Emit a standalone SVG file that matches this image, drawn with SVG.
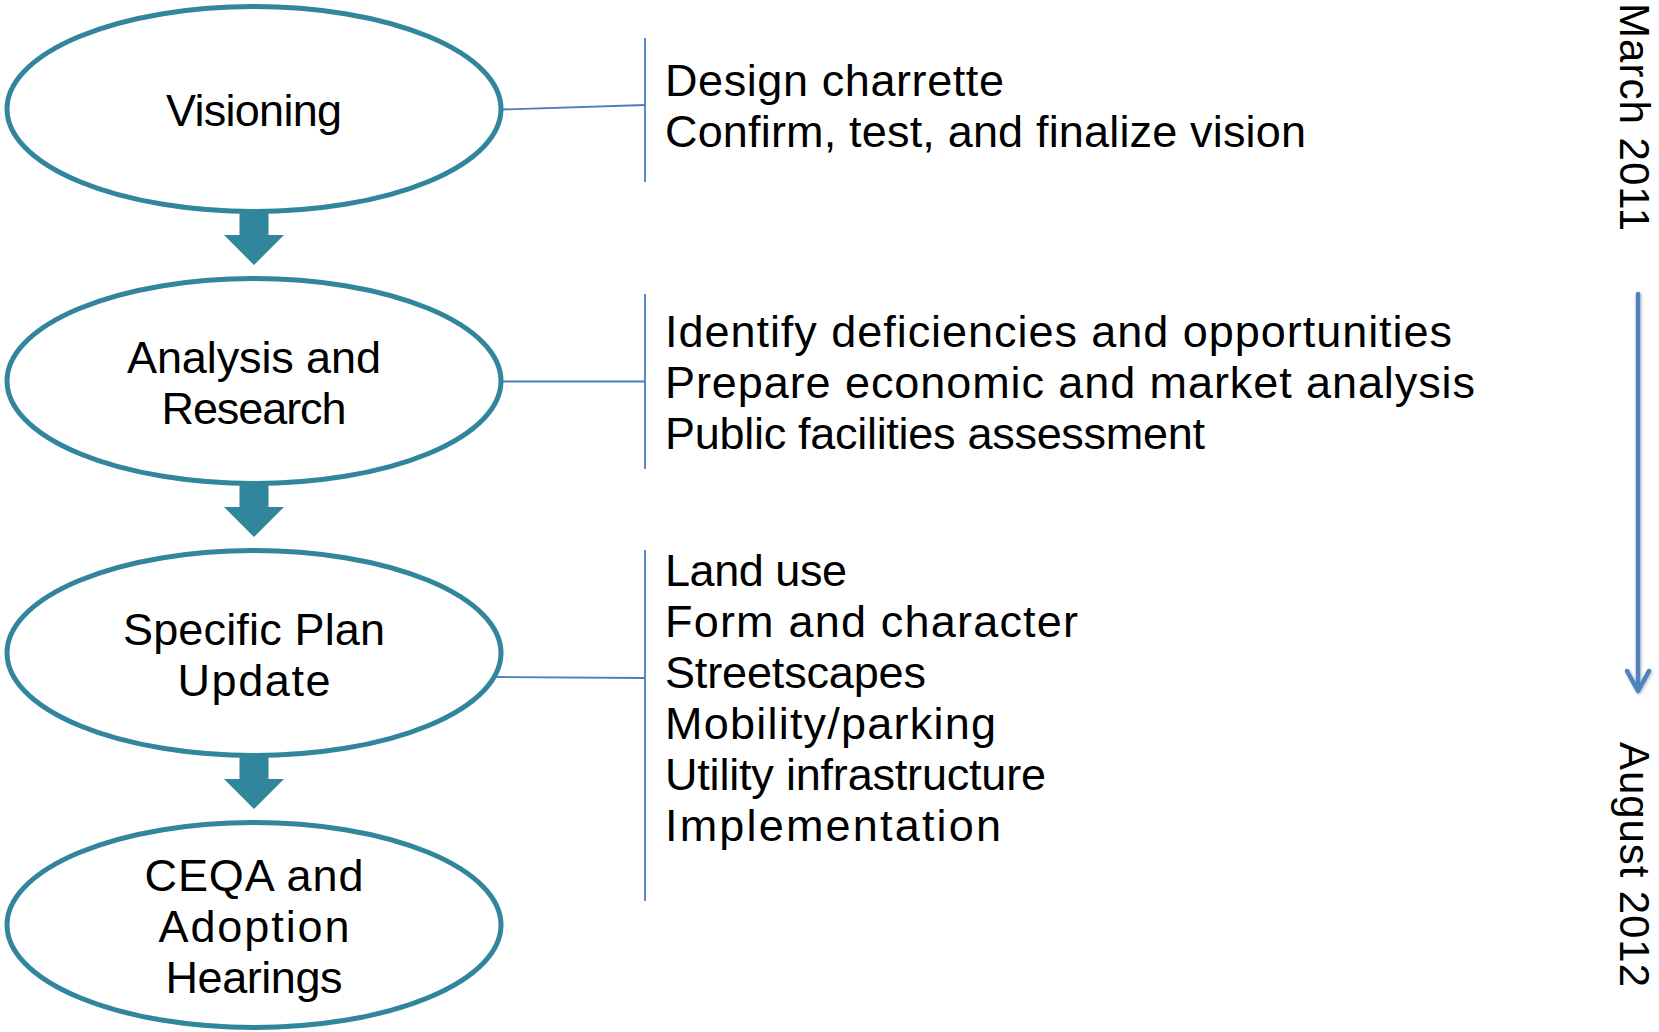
<svg xmlns="http://www.w3.org/2000/svg" width="1659" height="1032" viewBox="0 0 1659 1032">
  <style>
    .stage { fill: #ffffff; stroke: #31859c; stroke-width: 5; }
    .flow { fill: #31859c; }
    .lbl { font-family: "Liberation Sans", Arial, sans-serif; font-size: 45px; fill: #000000; }
    .side { font-size: 42px; }
    .mid { text-anchor: middle; }
    .tie { stroke: #4a7ebb; stroke-width: 1.8; fill: none; }
    .time { stroke: #4f81bd; stroke-width: 4.5; fill: none; stroke-linecap: round; stroke-linejoin: round; }
  </style>
  <defs>
    <filter id="soft" x="-50%" y="-5%" width="200%" height="110%">
      <feDropShadow dx="1" dy="1" stdDeviation="1.5" flood-color="#000000" flood-opacity="0.3"/>
    </filter>
  </defs>
  <rect width="1659" height="1032" fill="#ffffff"/>

  <!-- connectors: block arrows between stages, ties to task lists, timeline -->
  <g id="connectors">
    <path class="flow" d="M239.5,210 H268.5 V235 H284 L254,265 L224,235 H239.5 Z"/>
    <path class="flow" d="M239.5,482 H268.5 V507 H284 L254,537 L224,507 H239.5 Z"/>
    <path class="flow" d="M239.5,754 H268.5 V779 H284 L254,809 L224,779 H239.5 Z"/>

    <line class="tie" x1="502" y1="109.5" x2="645" y2="105"/>
    <line class="tie" x1="645" y1="38" x2="645" y2="182"/>
    <line class="tie" x1="502" y1="381.5" x2="645" y2="381.5"/>
    <line class="tie" x1="645" y1="294" x2="645" y2="469"/>
    <line class="tie" x1="497" y1="677" x2="645" y2="678"/>
    <line class="tie" x1="645" y1="550" x2="645" y2="901"/>

    <g filter="url(#soft)">
      <line class="time" x1="1638" y1="294" x2="1638" y2="690" stroke-linecap="butt"/>
      <polyline class="time" points="1627,671 1638,691 1649,671"/>
    </g>
  </g>

  <g id="visioning">
    <ellipse class="stage" cx="254" cy="109" rx="247" ry="102.5"/>
    <text class="lbl mid" x="254" y="126" textLength="176">Visioning</text>
  </g>
  <g id="analysis">
    <ellipse class="stage" cx="254" cy="381" rx="247" ry="102.5"/>
    <text class="lbl mid" x="254" y="373" textLength="254">Analysis and</text>
    <text class="lbl mid" x="254" y="424" textLength="185">Research</text>
  </g>
  <g id="specific-plan">
    <ellipse class="stage" cx="254" cy="653" rx="247" ry="102.5"/>
    <text class="lbl mid" x="254" y="645" textLength="262">Specific Plan</text>
    <text class="lbl mid" x="254" y="696" textLength="153">Update</text>
  </g>
  <g id="ceqa">
    <ellipse class="stage" cx="254" cy="925" rx="247" ry="102.5"/>
    <text class="lbl mid" x="254" y="891" textLength="219">CEQA and</text>
    <text class="lbl mid" x="254" y="942" textLength="191">Adoption</text>
    <text class="lbl mid" x="254" y="993" textLength="177">Hearings</text>
  </g>

  <g id="visioning-tasks">
    <text class="lbl" x="665" y="96" textLength="339">Design charrette</text>
    <text class="lbl" x="665" y="147" textLength="641">Confirm, test, and finalize vision</text>
  </g>
  <g id="analysis-tasks">
    <text class="lbl" x="665" y="347" textLength="787">Identify deficiencies and opportunities</text>
    <text class="lbl" x="665" y="398" textLength="810">Prepare economic and market analysis</text>
    <text class="lbl" x="665" y="449" textLength="540">Public facilities assessment</text>
  </g>
  <g id="specific-plan-tasks">
    <text class="lbl" x="665" y="586" textLength="182">Land use</text>
    <text class="lbl" x="665" y="637" textLength="413">Form and character</text>
    <text class="lbl" x="665" y="688" textLength="261">Streetscapes</text>
    <text class="lbl" x="665" y="739" textLength="331">Mobility/parking</text>
    <text class="lbl" x="665" y="790" textLength="381">Utility infrastructure</text>
    <text class="lbl" x="665" y="841" textLength="336">Implementation</text>
  </g>

  <g id="timeline-start">
    <text class="lbl side" transform="translate(1620,3) rotate(90)" x="0" y="0" textLength="228">March 2011</text>
  </g>
  <g id="timeline-end">
    <text class="lbl side" transform="translate(1620,742) rotate(90)" x="0" y="0" textLength="245">August 2012</text>
  </g>
</svg>
